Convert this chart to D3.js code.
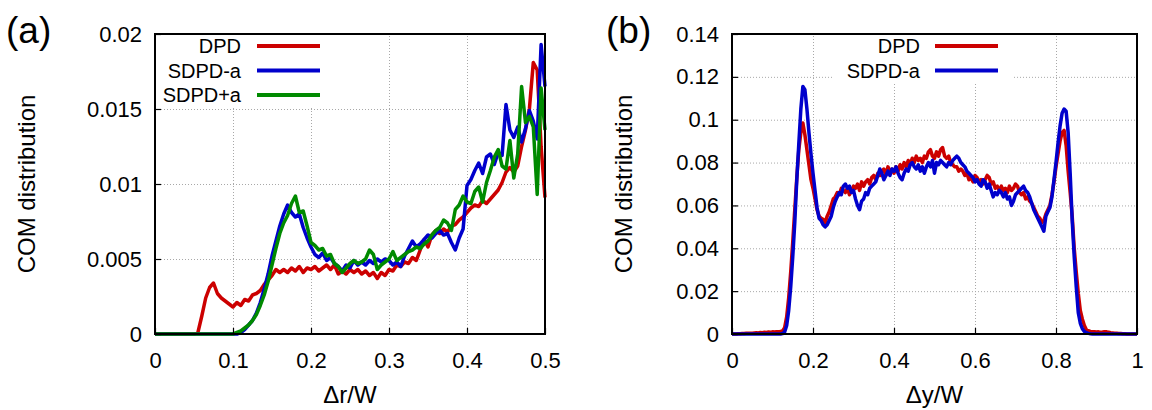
<!DOCTYPE html>
<html>
<head>
<meta charset="utf-8">
<script src="https://cdn.jsdelivr.net/npm/d3@7"></script>
<style>
  body { margin: 0; background: #fff; }
  svg { display: block; font-family: "Liberation Sans", Arial, sans-serif; }
  .grid line { stroke: #a8a8a8; stroke-width: 1; stroke-dasharray: 1,2; }
  .grid path { display: none; }
  .axis path { display: none; }
  .axis line { stroke: #000; stroke-width: 1.2; }
  .axis text { font-size: 22px; fill: #000; }
</style>
</head>
<body>
<svg id="chart" width="1152" height="410"></svg>
<script>
// ---- panel (a): COM distribution vs dr/W, bins of 0.005 from 0 to 0.5
const stepA = 0.005;
const dpdA = [
  0,0,0,0,0,0,0,0,0,0,
  0,0.0001,0.0012,0.0024,0.0031,0.0034,0.0027,0.0024,0.0022,0.0020,
  0.0018,0.0021,0.0019,0.0023,0.0022,0.0026,0.0027,0.0029,0.0033,0.0036,
  0.0039,0.0043,0.0041,0.0043,0.0041,0.0044,0.0042,0.0045,0.0041,0.0044,
  0.0043,0.0045,0.0042,0.0044,0.0046,0.0043,0.0046,0.0040,0.0042,0.0040,
  0.0043,0.0041,0.0043,0.0040,0.0042,0.0039,0.0041,0.0037,0.0041,0.0039,
  0.0043,0.0042,0.0046,0.0045,0.0048,0.0047,0.0051,0.0049,0.0056,0.0063,
  0.0058,0.0066,0.0069,0.0067,0.0070,0.0068,0.0072,0.0073,0.0076,0.0078,
  0.0081,0.0084,0.0086,0.0085,0.0089,0.0087,0.0090,0.0093,0.0096,0.0101,
  0.0108,0.0111,0.0108,0.0112,0.0125,0.0136,0.0150,0.0181,0.0176,0.0125,0.0091
];
const sdpdMinusA = [
  0,0,0,0,0,0,0,0,0,0,
  0,0,0,0,0,0,0,0,0,0,
  0,0,0.0001,0.0003,0.0006,0.0009,0.0014,0.0021,0.0030,0.0040,
  0.0052,0.0062,0.0072,0.0080,0.0086,0.0081,0.0078,0.0080,0.0071,0.0064,
  0.0058,0.0053,0.0051,0.0054,0.0049,0.0051,0.0047,0.0045,0.0042,0.0046,
  0.0044,0.0049,0.0046,0.0048,0.0046,0.0049,0.0047,0.0050,0.0048,0.0050,
  0.0049,0.0046,0.0048,0.0045,0.0052,0.0057,0.0062,0.0058,0.0060,0.0063,
  0.0066,0.0064,0.0067,0.0069,0.0066,0.0067,0.0061,0.0056,0.0064,0.0070,
  0.0099,0.0103,0.0109,0.0114,0.0107,0.0118,0.0120,0.0113,0.0121,0.0119,
  0.0153,0.0136,0.0131,0.0138,0.0128,0.0137,0.0149,0.0142,0.0130,0.0193,0.0165
];
const sdpdPlusA = [
  0,0,0,0,0,0,0,0,0,0,
  0,0,0,0,0,0,0,0,0,0,
  0,0.0001,0.0002,0.0004,0.0006,0.0009,0.0013,0.0019,0.0026,0.0035,
  0.0046,0.0057,0.0067,0.0074,0.0079,0.0087,0.0092,0.0081,0.0082,0.0072,
  0.0061,0.0059,0.0056,0.0057,0.0052,0.0053,0.0047,0.0045,0.0041,0.0044,
  0.0047,0.0049,0.0047,0.0048,0.0050,0.0056,0.0053,0.0043,0.0046,0.0048,
  0.0050,0.0055,0.0049,0.0051,0.0053,0.0055,0.0056,0.0058,0.0057,0.0060,
  0.0062,0.0066,0.0069,0.0071,0.0076,0.0074,0.0069,0.0083,0.0086,0.0092,
  0.0088,0.0087,0.0095,0.0098,0.0088,0.0101,0.0109,0.0118,0.0123,0.0112,
  0.0110,0.0129,0.0104,0.0120,0.0165,0.0141,0.0145,0.0138,0.0093,0.0164,0.0136
];
const xTicksA = [0, 0.1, 0.2, 0.3, 0.4, 0.5];
const yTicksA = [0, 0.005, 0.01, 0.015, 0.02];

// ---- panel (b): COM distribution vs dy/W, bins of 0.005 from 0 to 1
const stepB = 0.005;
const dpdB = [
  0,0,0,0.0001,0.0001,0.0002,0.0002,0.0003,0.0003,0.0004,
  0.0004,0.0005,0.0006,0.0005,0.0007,0.0006,0.0008,0.0007,0.0009,0.0008,
  0.0010,0.0009,0.0011,0.0010,0.0012,0.0014,0.0030,0.0080,0.0170,0.0290,
  0.043,0.058,0.073,0.086,0.094,0.0985,0.093,0.086,0.079,0.072,
  0.068,0.063,0.058,0.055,0.054,0.0535,0.052,0.055,0.057,0.060,
  0.063,0.064,0.066,0.065,0.068,0.067,0.066,0.068,0.065,0.067,
  0.069,0.068,0.070,0.067,0.071,0.069,0.071,0.072,0.070,0.073,
  0.074,0.072,0.075,0.074,0.076,0.077,0.074,0.078,0.076,0.077,
  0.075,0.078,0.076,0.079,0.077,0.080,0.078,0.081,0.079,0.082,
  0.080,0.083,0.081,0.082,0.080,0.083,0.082,0.085,0.086,0.083,
  0.082,0.085,0.083,0.086,0.087,0.083,0.082,0.083,0.080,0.079,
  0.078,0.078,0.076,0.077,0.076,0.074,0.075,0.072,0.073,0.071,
  0.074,0.073,0.071,0.072,0.070,0.072,0.074,0.073,0.070,0.071,
  0.068,0.069,0.067,0.069,0.067,0.068,0.066,0.069,0.067,0.068,
  0.070,0.069,0.066,0.065,0.066,0.063,0.064,0.062,0.061,0.059,
  0.057,0.055,0.054,0.052,0.053,0.056,0.058,0.060,0.065,0.071,
  0.078,0.084,0.090,0.094,0.095,0.088,0.076,0.066,0.055,0.040,
  0.029,0.019,0.011,0.007,0.004,0.002,0.0015,0.0012,0.0011,0.0010,
  0.0009,0.0010,0.0008,0.0009,0.0011,0.0010,0.0008,0.0006,0.0005,0.0004,
  0.0003,0.0002,0.0002,0.0001,0.0001,0,0,0,0,0,0
];
const sdpdB = [
  0,0,0,0,0,0,0,0,0,0,
  0,0,0,0,0,0,0,0,0,0,
  0,0,0,0,0,0.0002,0.0010,0.0040,0.0110,0.0220,
  0.036,0.052,0.072,0.089,0.105,0.1155,0.114,0.105,0.094,0.084,
  0.075,0.067,0.059,0.054,0.053,0.051,0.050,0.051,0.053,0.055,
  0.059,0.062,0.064,0.066,0.065,0.069,0.070,0.068,0.069,0.066,
  0.067,0.063,0.060,0.058,0.062,0.063,0.066,0.065,0.068,0.069,
  0.070,0.071,0.074,0.077,0.075,0.072,0.074,0.076,0.074,0.077,
  0.076,0.078,0.075,0.073,0.072,0.075,0.077,0.076,0.079,0.080,
  0.078,0.077,0.079,0.076,0.078,0.075,0.078,0.080,0.078,0.081,
  0.075,0.080,0.079,0.081,0.080,0.079,0.078,0.080,0.079,0.081,
  0.082,0.083,0.082,0.080,0.079,0.078,0.076,0.075,0.074,0.073,
  0.071,0.072,0.070,0.069,0.072,0.071,0.068,0.070,0.067,0.064,
  0.066,0.065,0.067,0.066,0.064,0.066,0.063,0.064,0.060,0.062,
  0.065,0.066,0.067,0.068,0.069,0.067,0.066,0.064,0.061,0.058,
  0.056,0.054,0.052,0.050,0.048,0.055,0.057,0.059,0.064,0.072,
  0.080,0.089,0.097,0.103,0.105,0.104,0.094,0.075,0.053,0.036,
  0.022,0.010,0.005,0.0025,0.0012,0.0006,0.0003,0.0001,0,0,
  0,0,0,0,0,0,0,0,0,0,
  0,0,0,0,0,0,0,0,0,0,0
];
const xTicksB = [0, 0.2, 0.4, 0.6, 0.8, 1];
const yTicksB = [0, 0.02, 0.04, 0.06, 0.08, 0.1, 0.12, 0.14];

const RED = "#cc0000", BLUE = "#0000cc", GREEN = "#008a00";

const svg = d3.select("#chart");
const fmt = d3.format("~g");

function drawPanel(p) {
    const g = svg.append("g").attr("transform", `translate(${p.left},${p.top})`);
    const x = d3.scaleLinear().domain(p.xDomain).range([0, p.width]);
    const y = d3.scaleLinear().domain(p.yDomain).range([p.height, 0]);

    // grid
    g.append("g").attr("class", "grid")
        .attr("transform", `translate(0,${p.height})`)
        .call(d3.axisBottom(x).tickValues(p.xTicks.slice(1, -1)).tickSize(-p.height).tickFormat(""));
    g.append("g").attr("class", "grid")
        .call(d3.axisLeft(y).tickValues(p.yTicks.slice(1, -1)).tickSize(-p.width).tickFormat(""));

    // opaque key box
    g.append("rect")
        .attr("x", p.key.x).attr("y", 0)
        .attr("width", p.key.w).attr("height", p.key.h)
        .attr("fill", "#fff");

    // curves
    const line = d3.line()
        .x((_, i) => x(i * p.step))
        .y(d => y(d));
    p.series.forEach(s => {
        g.append("path")
            .datum(s.values)
            .attr("fill", "none")
            .attr("stroke", s.color)
            .attr("stroke-width", 3.5)
            .attr("stroke-linejoin", "round")
            .attr("d", line);
    });

    // axes, ticks pointing inward
    g.append("g").attr("class", "axis")
        .attr("transform", `translate(0,${p.height})`)
        .call(d3.axisBottom(x).tickValues(p.xTicks).tickFormat(fmt).tickSize(-6).tickPadding(18));
    g.append("g").attr("class", "axis")
        .call(d3.axisLeft(y).tickValues(p.yTicks).tickFormat(fmt).tickSize(-6).tickPadding(13));

    g.append("rect")
        .attr("width", p.width).attr("height", p.height)
        .attr("fill", "none").attr("stroke", "#000").attr("stroke-width", 2);

    // key
    p.series.forEach((s, i) => {
        const ky = 12 + i * 24.5;
        g.append("text")
            .attr("x", p.key.textX).attr("y", ky)
            .attr("dy", "0.35em")
            .attr("text-anchor", "end")
            .style("font-size", "20px")
            .text(s.name);
        g.append("line")
            .attr("x1", p.key.lineX).attr("x2", p.key.lineX + 63)
            .attr("y1", ky).attr("y2", ky)
            .attr("stroke", s.color).attr("stroke-width", 4);
    });

    // titles
    svg.append("text")
        .attr("transform", `translate(${p.yTitleX},${p.top + p.height / 2}) rotate(-90)`)
        .attr("text-anchor", "middle")
        .style("font-size", "24px")
        .text("COM distribution");
    svg.append("text")
        .attr("x", p.left + p.width / 2).attr("y", 403)
        .attr("text-anchor", "middle")
        .style("font-size", "24px")
        .text(p.xTitle);
    svg.append("text")
        .attr("x", p.labelX).attr("y", 43)
        .style("font-size", "37px")
        .text(p.label);
}

drawPanel({
    left: 155, top: 34, width: 390, height: 300,
    xDomain: [0, 0.5], yDomain: [0, 0.02],
    xTicks: xTicksA, yTicks: yTicksA, step: stepA,
    series: [
        { name: "DPD", color: RED, values: dpdA },
        { name: "SDPD-a", color: BLUE, values: sdpdMinusA },
        { name: "SDPD+a", color: GREEN, values: sdpdPlusA }
    ],
    key: { x: 0, w: 170, h: 74, textX: 86, lineX: 102 },
    yTitleX: 35, xTitle: "\u0394r/W", label: "(a)", labelX: 6
});

drawPanel({
    left: 732, top: 34, width: 405, height: 300,
    xDomain: [0, 1], yDomain: [0, 0.14],
    xTicks: xTicksB, yTicks: yTicksB, step: stepB,
    series: [
        { name: "DPD", color: RED, values: dpdB },
        { name: "SDPD-a", color: BLUE, values: sdpdB }
    ],
    key: { x: 101, w: 180, h: 49, textX: 188, lineX: 203 },
    yTitleX: 632, xTitle: "\u0394y/W", label: "(b)", labelX: 606
});
</script>
</body>
</html>
